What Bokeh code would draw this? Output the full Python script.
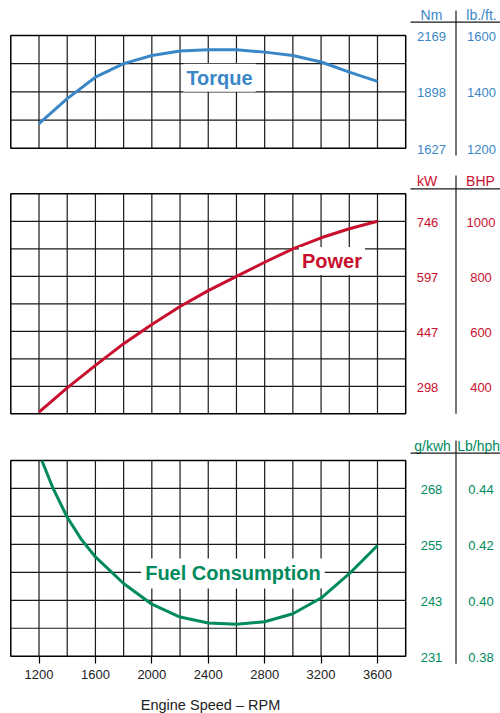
from bokeh.plotting import figure
from bokeh.models import Range1d, FixedTicker, Label
from bokeh.core.properties import value
from bokeh.embed import file_html
from bokeh.resources import INLINE

# ---------------- data ----------------
rpm = [1200, 1400, 1600, 1800, 2000, 2200, 2400, 2600, 2800, 3000, 3200, 3400, 3600]
torque_lbft = [1287, 1376, 1452, 1500, 1529, 1545, 1549, 1549, 1541, 1529, 1506, 1470, 1437]
power_bhp = [306, 394, 476, 555, 625, 690, 748, 800, 851, 900, 940, 973, 1000]
fuel_rpm = [1220, 1300, 1400, 1500, 1600, 1800, 2000, 2200, 2400, 2600, 2800, 3000, 3200,
            3400, 3600]
fuel_lbhph = [0.4500, 0.4400, 0.4297, 0.4218, 0.4155, 0.4060, 0.3986, 0.3940, 0.3919,
              0.3914, 0.3923, 0.3952, 0.4008, 0.4095, 0.4196]

X_MIN, X_MAX = 1000, 3800
x_axis_ticks = [1200, 1600, 2000, 2400, 2800, 3200, 3600]
x_grid_ticks = [1200, 1400, 1600, 1800, 2000, 2200, 2400, 2600, 2800, 3000, 3200, 3400, 3600]
x_title = "Engine Speed \u2013 RPM"

T_MIN, T_MAX = 1200, 1600
torque_grid = [1300, 1400, 1500]
torque_tick_pos = [1200, 1400, 1600]
torque_nm_labels = ["1627", "1898", "2169"]
torque_lbft_labels = ["1200", "1400", "1600"]

P_MIN, P_MAX = 300, 1100
power_grid = [400, 500, 600, 700, 800, 900, 1000]
power_tick_pos = [400, 600, 800, 1000]
power_kw_labels = ["298", "447", "597", "746"]
power_bhp_labels = ["400", "600", "800", "1000"]

F_MIN, F_MAX = 0.38, 0.45
fuel_grid = [0.39, 0.40, 0.41, 0.42, 0.43, 0.44]
fuel_tick_pos = [0.38, 0.40, 0.42, 0.44]
fuel_gkwh_labels = ["231", "243", "255", "268"]
fuel_lbhph_labels = ["0.38", "0.40", "0.42", "0.44"]

# ---------------- style / layout ----------------
BLUE = "#3a87c8"
RED = "#c8102e"
GREEN = "#008a5e"
FONT = "Liberation Sans"
INK = "#1a1a1a"

W, H = 500, 713
FRAME_BOTTOM = 713          # the frame covers the whole canvas
XL_PX, XR_PX = 10.3, 405.2  # px of X_MIN / X_MAX
per_x = (X_MAX - X_MIN) / (XR_PX - XL_PX)


def y_range_for(lo, hi, top_px, bot_px):
    per = (hi - lo) / (bot_px - top_px)
    return Range1d(lo - (FRAME_BOTTOM - bot_px) * per, hi + top_px * per)


p = figure(width=W, height=H,
           x_range=Range1d(X_MIN - XL_PX * per_x, X_MIN + (W - XL_PX) * per_x),
           y_range=y_range_for(F_MIN, F_MAX, 460, 655.7),
           title=None, output_backend="svg", toolbar_location=None,
           x_axis_location="below", y_axis_location=None,
           min_border_left=0, min_border_right=0, min_border_top=0, min_border_bottom=0)
p.extra_y_ranges = {
    "torque": y_range_for(T_MIN, T_MAX, 35, 147.7),
    "power": y_range_for(P_MIN, P_MAX, 193.3, 413.3),
    "px": Range1d(FRAME_BOTTOM, 0),
}
p.extra_x_ranges = {"px": Range1d(0, W)}
p.grid.visible = False
p.outline_line_color = None
p.background_fill_color = "white"
p.border_fill_color = "white"

# x axis pinned to the bottom edge of the fuel chart
ax = p.xaxis[0]
ax.fixed_location = F_MIN
ax.ticker = FixedTicker(ticks=x_axis_ticks)
ax.axis_line_color = None
ax.major_tick_out = 7
ax.major_tick_in = 0
ax.major_tick_line_color = "black"
ax.major_tick_line_width = 1.2
ax.minor_tick_line_color = None
ax.major_label_text_font = FONT
ax.major_label_text_font_size = "13px"
ax.major_label_text_color = "#222222"
ax.major_label_standoff = 7

p.add_layout(Label(x=210, y=704, x_range_name="px", y_range_name="px", text=x_title,
                   text_align="center", text_baseline="middle", text_font=FONT,
                   text_font_size="14.5px", text_color="#222222"))


def panel(name, lo, hi, ygrid, xs, ys, color):
    n, m = len(x_grid_ticks), len(ygrid)
    p.segment(x0=x_grid_ticks, y0=[lo] * n, x1=x_grid_ticks, y1=[hi] * n,
              y_range_name=name, line_color=INK, line_width=1.2)
    p.segment(x0=[X_MIN] * m, y0=ygrid, x1=[X_MAX] * m, y1=ygrid,
              y_range_name=name, line_color=INK, line_width=1.2)
    p.quad(left=[X_MIN], right=[X_MAX], bottom=[lo], top=[hi], fill_color=None,
           line_color="black", line_width=1.5, y_range_name=name)
    p.line(xs, ys, line_color=color, line_width=3, line_join="round", y_range_name=name)


def table(name, pos, left_labels, right_labels, xl, xr, color):
    for x, labels in ((xl, left_labels), (xr, right_labels)):
        p.text(x=[x] * len(pos), y=pos, text=labels, x_range_name="px", y_range_name=name,
               text_align="center", text_baseline="middle", y_offset=1,
               text_font=value(FONT), text_font_size="13px", text_color=color)


def header(head_l, head_r, hxl, hxr, hy, ly, sep_top, sep_bot, color, r_align="center"):
    p.text(x=[hxl], y=[hy], text=[head_l], x_range_name="px", y_range_name="px",
           text_align="center", text_baseline="middle",
           text_font=value(FONT), text_font_size="14px", text_color=color)
    p.text(x=[hxr], y=[hy], text=[head_r], x_range_name="px", y_range_name="px",
           text_align=r_align, text_baseline="middle",
           text_font=value(FONT), text_font_size="14px", text_color=color)
    p.segment(x0=[410], y0=[ly], x1=[W], y1=[ly], x_range_name="px", y_range_name="px",
              line_color=INK, line_width=1.2)
    p.segment(x0=[455.5], y0=[sep_top], x1=[455.5], y1=[sep_bot], x_range_name="px",
              y_range_name="px", line_color=INK, line_width=1.2)


# torque
panel("torque", T_MIN, T_MAX, torque_grid, rpm, torque_lbft, BLUE)
table("torque", torque_tick_pos, torque_nm_labels, torque_lbft_labels, 431, 481, BLUE)
header("Nm", "lb./ft.", 431, 481, 14.2, 21.7, 10, 155, BLUE)
p.add_layout(Label(x=2480, y=1450, y_range_name="torque", text="Torque",
                   text_align="center", text_baseline="middle", text_font=FONT,
                   text_font_size="20px", text_font_style="bold", text_color=BLUE,
                   background_fill_color="white", padding=3))

# power
panel("power", P_MIN, P_MAX, power_grid, rpm, power_bhp, RED)
table("power", power_tick_pos, power_kw_labels, power_bhp_labels, 427, 480.5, RED)
header("kW", "BHP", 426.7, 480, 180, 188.3, 175, 413.3, RED)
p.add_layout(Label(x=3277, y=856, y_range_name="power", text="Power",
                   text_align="center", text_baseline="middle", text_font=FONT,
                   text_font_size="20px", text_font_style="bold", text_color=RED,
                   background_fill_color="white", padding=3))

# fuel
panel("default", F_MIN, F_MAX, fuel_grid, fuel_rpm, fuel_lbhph, GREEN)
table("default", fuel_tick_pos, fuel_gkwh_labels, fuel_lbhph_labels, 431, 480.5, GREEN)
header("g/kwh", "Lb/hph", 432, 456.7, 445, 452.7, 440, 663.3, GREEN, r_align="left")
p.add_layout(Label(x=2575, y=0.4096, text="Fuel Consumption",
                   text_align="center", text_baseline="middle", text_font=FONT,
                   text_font_size="20px", text_font_style="bold", text_color=GREEN,
                   background_fill_color="white", padding=4))

open("out.html", "w").write(file_html(p, INLINE))
